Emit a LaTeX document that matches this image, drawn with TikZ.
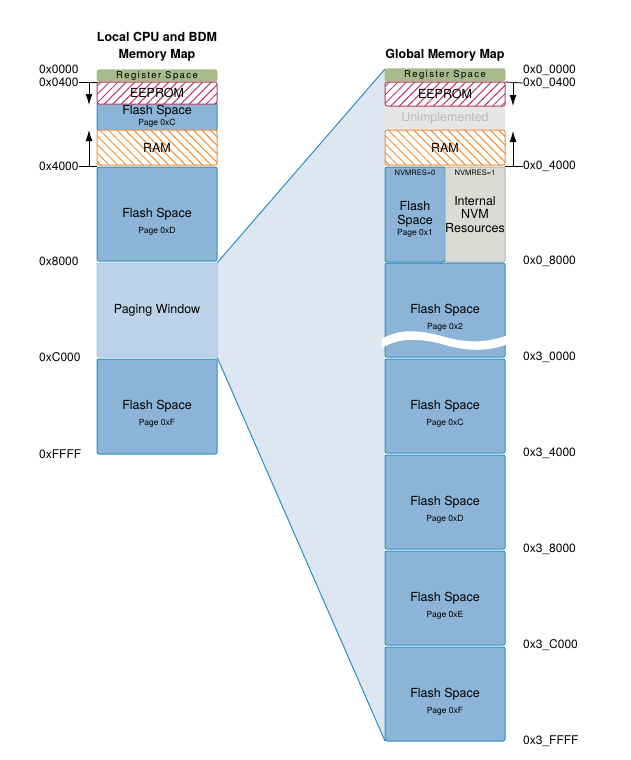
\documentclass[tikz,border=0pt]{standalone}
\usepackage{fontspec}
\setmainfont{TeX Gyre Heros}
\newfontfamily\spacedfont[LetterSpace=15]{TeX Gyre Heros}
\usepackage{tikz}
\usetikzlibrary{arrows.meta,positioning,patterns.meta,backgrounds}
\definecolor{FlashBlue}{HTML}{8BB4D7}
\definecolor{FlashEdge}{HTML}{2A8FC2}
\definecolor{PageBlue}{HTML}{BDD3E9}
\definecolor{PageEdge}{HTML}{A8C5E0}
\definecolor{ZoomFill}{HTML}{DEE7F1}
\definecolor{RegGreen}{HTML}{A8BA8B}
\definecolor{RomRed}{HTML}{B83A63}
\definecolor{RamOrange}{HTML}{F28C35}
\definecolor{UnimplGray}{HTML}{E6E6E6}
\definecolor{NvmGray}{HTML}{D8DCD4}
\definecolor{NvmEdge}{HTML}{B4B8B0}
\tikzset{
    every node/.style={font=\fontsize{12.5}{13.5}\selectfont},
    membox/.style={
        draw=FlashEdge, fill=FlashBlue, line width=1pt,
        rounded corners=2pt, minimum width=120pt,
        inner sep=0pt, outer sep=0pt, anchor=north west, align=center
    },
    regbox/.style={
        membox, draw=RegGreen, fill=RegGreen,
        font=\spacedfont\fontsize{9.5}{10}\selectfont
    },
    hatchbox/.style={
        membox, draw=#1, fill=none, preaction={fill=white},
        pattern={Lines[angle=45, distance=6pt, line width=1pt]}, pattern color=#1
    },
    ramhatch/.style={
        membox, draw=RamOrange, fill=none, preaction={fill=white},
        pattern={Lines[angle=-45, distance=6pt, line width=1pt]}, pattern color=RamOrange
    },
    pagelbl/.style={font=\fontsize{8.5}{9}\selectfont, yshift=-17pt},
    flashpage/.style={label={[pagelbl]center:Page #1}},
    nvmlbl/.style={font=\fontsize{7.5}{8}\selectfont, anchor=north, inner sep=3pt},
    addrlbl/.style={anchor=west, inner sep=0pt, font=\fontsize{12}{12}\selectfont},
    maptitle/.style={font=\bfseries\fontsize{12.5}{17}\selectfont, align=center},
    memarrow/.style={-{Latex[length=11pt, width=7pt]}, line width=0.8pt},
    tickline/.style={line width=0.8pt},
    zoomline/.style={draw=FlashEdge, line width=1pt},
}
\begin{document}
\begin{tikzpicture}[x=1pt, y=-1pt]
    \useasboundingbox (0,0) rectangle (630,760);

    % Titles
    \node[maptitle] (titleL) at (157,47) {Local CPU and BDM\\Memory Map};
    \node[maptitle] (titleR) at (445,55) {Global Memory Map};

    % Local map
    \node[regbox, minimum height=11pt] (regL) at (97,70) {Register Space};
    \node[membox, minimum height=29pt] (flashCL) at (97,102)
        {Flash Space\\[-3pt]{\fontsize{8.5}{8.5}\selectfont Page 0xC}};
    \node[hatchbox=RomRed, minimum height=22pt] (eepromL) at (97,82) {EEPROM};
    \node[ramhatch, minimum height=35pt] (ramL) at (97,130) {RAM};
    \node[membox, minimum height=94pt, flashpage=0xD] (flashDL) at (97,167) {Flash Space};
    \node[membox, draw=PageEdge, fill=PageBlue, minimum height=94pt] (pagingL) at (97,263) {Paging Window};
    \node[membox, minimum height=95pt, flashpage=0xF] (flashFL) at (97,359) {Flash Space};

    % Global map
    \node[regbox, minimum height=12pt] (regR) at (385,69) {Register Space};
    \node[membox, draw=none, fill=UnimplGray, minimum height=24pt, text=black!27] (unimpl) at (385,106) {Unimplemented};
    \node[hatchbox=RomRed, minimum height=24pt] (eepromR) at (385,82) {EEPROM};
    \node[ramhatch, minimum height=35pt] (ramR) at (385,130) {RAM};
    \node[membox, minimum width=60pt, minimum height=95pt,
          label={[nvmlbl]north:NVMRES=0}, label={[pagelbl, yshift=-2pt]center:Page 0x1}] (nvm0) at (385,167) {Flash\\Space};
    \node[membox, draw=NvmEdge, fill=NvmGray, minimum width=60pt, minimum height=95pt,
          label={[nvmlbl]north:NVMRES=1}] (nvm1) at (445,167) {Internal\\NVM\\Resources};
    \node[membox, minimum height=94pt, flashpage=0x2] (flash2) at (385,263) {Flash Space};
    \node[membox, minimum height=94pt, flashpage=0xC] (flashCR) at (385,359) {Flash Space};
    \node[membox, minimum height=94pt, flashpage=0xD] (flashDR) at (385,455) {Flash Space};
    \node[membox, minimum height=94pt, flashpage=0xE] (flashER) at (385,551) {Flash Space};
    \node[membox, minimum height=94pt, flashpage=0xF] (flashFR) at (385,647) {Flash Space};

    % Break in the flash range
    \fill[white] (382,339) .. controls (400,328) and (420,330) .. (445,337)
        .. controls (470,344) and (490,342) .. (508,335)
        -- (508,344) .. controls (490,351) and (470,352) .. (445,345)
        .. controls (420,338) and (400,337) .. (382,348) -- cycle;

    % Paging window zoom
    \begin{scope}[on background layer]
        \fill[ZoomFill] (pagingL.north east) -- (regR.north west) -- (flashFR.south west) -- (pagingL.south east) -- cycle;
    \end{scope}
    \draw[zoomline] (pagingL.north east) -- (regR.north west);
    \draw[zoomline] (pagingL.south east) -- (flashFR.south west);

    % Local addresses
    \node[addrlbl] (aL0000) at (39,69) {0x0000};
    \node[addrlbl] (aL0400) at (39,82) {0x0400};
    \node[addrlbl] (aL4000) at (39,166) {0x4000};
    \node[addrlbl] (aL8000) at (39,261) {0x8000};
    \node[addrlbl] (aLC000) at (39,357) {0xC000};
    \node[addrlbl] (aLFFFF) at (39,454) {0xFFFF};
    \coordinate (downL) at (89,105);
    \coordinate (upL) at (89,130);
    \draw[tickline] (aL0400.east) -- (eepromL.north west);
    \draw[tickline] (aL4000.east) -- (aL4000.east -| ramL.west);
    \draw[memarrow] (aL0400.east -| downL) -- (downL);
    \draw[memarrow] (aL4000.east -| upL) -- (upL);

    % Global addresses
    \node[addrlbl] (aR00000) at (523,70) {0x0\_0000};
    \node[addrlbl] (aR00400) at (523,83) {0x0\_0400};
    \node[addrlbl] (aR04000) at (523,166) {0x0\_4000};
    \node[addrlbl] (aR08000) at (523,261) {0x0\_8000};
    \node[addrlbl] (aR30000) at (523,357) {0x3\_0000};
    \node[addrlbl] (aR34000) at (523,453) {0x3\_4000};
    \node[addrlbl] (aR38000) at (523,549) {0x3\_8000};
    \node[addrlbl] (aR3C000) at (523,645) {0x3\_C000};
    \node[addrlbl] (aR3FFFF) at (523,741) {0x3\_FFFF};
    \coordinate (downR) at (513,106);
    \coordinate (upR) at (513,131);
    \draw[tickline] (eepromR.north east) -- (aR00400.west);
    \draw[tickline] (aR04000.west -| ramR.east) -- (aR04000.west);
    \draw[memarrow] (aR00400.west -| downR) -- (downR);
    \draw[memarrow] (aR04000.west -| upR) -- (upR);
\end{tikzpicture}
\end{document}
